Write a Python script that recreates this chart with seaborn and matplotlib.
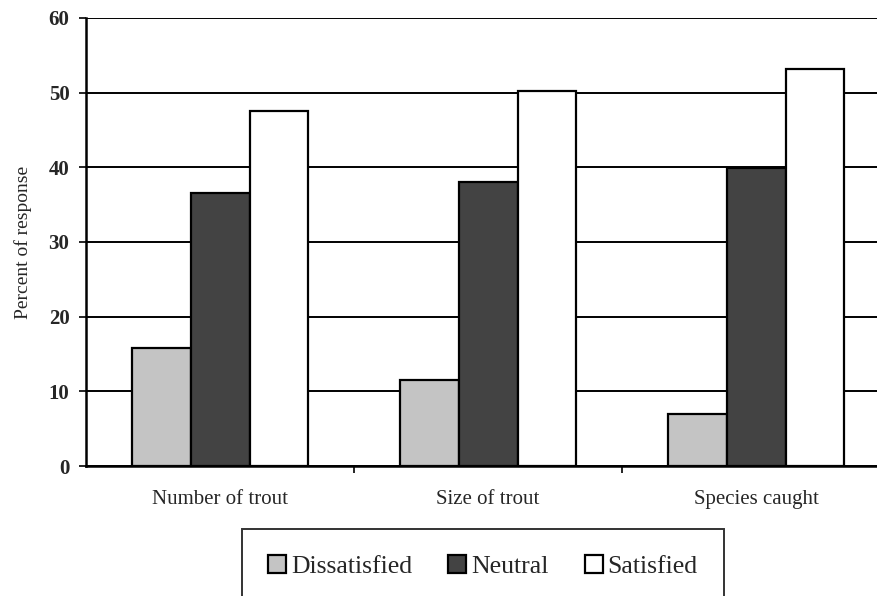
import pandas as pd
import seaborn as sns
import matplotlib.pyplot as plt

# values
categories = ["Number of trout", "Size of trout", "Species caught"]
responses = ["Dissatisfied", "Neutral", "Satisfied"]
dissatisfied = [15.8, 11.5, 7.0]
neutral = [36.5, 38.0, 39.9]
satisfied = [47.5, 50.2, 53.2]

colors = {"Dissatisfied": "#c4c4c4", "Neutral": "#434343", "Satisfied": "#ffffff"}

rows = []
for i, cat in enumerate(categories):
    for resp, vals in zip(responses, [dissatisfied, neutral, satisfied]):
        rows.append({"Category": cat, "Response": resp, "Percent": vals[i]})
df = pd.DataFrame(rows)

sns.set_style("white")
plt.rcParams['font.family'] = ['Liberation Serif', 'DejaVu Serif']

fig = plt.figure(figsize=(8.78, 5.96), dpi=100)
ax = fig.add_axes([0.098, 0.218, 0.902, 0.752])

sns.barplot(data=df, x="Category", y="Percent", hue="Response",
            order=categories, hue_order=responses, palette=colors,
            width=0.66, gap=0, edgecolor="black", linewidth=1.6,
            saturation=1, ax=ax, zorder=3)

# gridlines
ax.set_ylim(0, 60)
ax.set_yticks(range(0, 61, 10))
ax.yaxis.grid(True, color="black", linewidth=1.4, zorder=0)
ax.set_axisbelow(True)
ax.set_xlim(-0.5, 2.455)

for side in ["top", "right"]:
    ax.spines[side].set_visible(False)
for side in ["left", "bottom"]:
    ax.spines[side].set_color("black")
    ax.spines[side].set_linewidth(1.8)

ax.set_xlabel("")
ax.set_ylabel("Percent of response", fontsize=14, labelpad=12)
ax.tick_params(axis="y", direction="out", length=5, width=1.2, color="black",
               left=True, labelsize=15, pad=7)
for lbl in ax.get_yticklabels():
    lbl.set_fontweight("bold")
ax.tick_params(axis="x", which="major", length=0, labelsize=15, pad=17)
ax.set_xticks([0.5, 1.5], minor=True)
ax.tick_params(axis="x", which="minor", direction="out", length=5, width=1.2,
               color="black", bottom=True)

ax.get_legend().remove()
handles, labels = ax.get_legend_handles_labels()
leg = fig.legend(handles[:3], labels[:3], loc="upper center",
                 bbox_to_anchor=(0.55, 0.112), ncol=3, fontsize=18.5,
                 frameon=True, fancybox=False, edgecolor="black",
                 handlelength=0.7, handleheight=0.7, handletextpad=0.2,
                 columnspacing=1.4, borderpad=1.0, borderaxespad=0)
leg.get_frame().set_linewidth(1.4)

fig.savefig("out.png", dpi=100)
